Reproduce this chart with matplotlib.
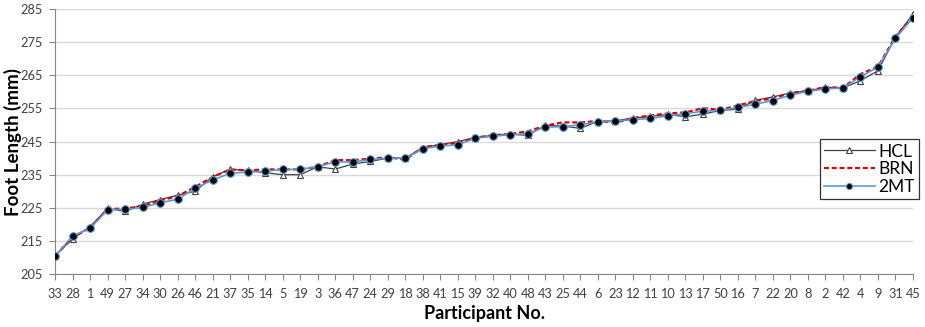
import numpy as np
import matplotlib
matplotlib.use("Agg")
import matplotlib.pyplot as plt

plt.rcParams['font.family'] = ['Lato', 'DejaVu Sans']

#==================================================================================================================
# data
participants = ["33", "28", "1", "49", "27", "34", "30", "26", "46", "21",
                "37", "35", "14", "5", "19", "3", "36", "47", "24", "29",
                "18", "38", "41", "15", "39", "32", "40", "48", "43", "25",
                "44", "6", "23", "12", "11", "10", "13", "17", "50", "16",
                "7", "22", "20", "8", "2", "42", "4", "9", "31", "45"]

hcl = [210.5, 215.7, 219.3, 224.8, 223.9, 226.1, 227.5, 228.8, 230.0, 234.4,
       236.6, 236.3, 235.6, 235.0, 235.0, 237.4, 236.7, 238.2, 239.0, 240.0,
       240.0, 243.2, 244.1, 245.0, 246.2, 246.9, 247.2, 246.9, 249.9, 249.7,
       249.0, 251.1, 251.3, 252.1, 252.6, 253.2, 252.5, 253.3, 254.4, 254.8,
       257.5, 258.5, 259.7, 260.3, 261.4, 261.2, 263.4, 266.4, 276.5, 283.5]

brn = [210.5, 216.0, 219.0, 224.6, 224.8, 225.5, 227.2, 228.5, 231.3, 234.3,
       236.6, 236.3, 236.6, 236.6, 236.6, 237.4, 239.4, 239.4, 239.8, 240.3,
       239.5, 243.3, 244.0, 244.6, 246.2, 246.9, 247.3, 248.1, 249.8, 250.8,
       250.8, 251.2, 250.7, 252.1, 252.9, 253.5, 253.8, 255.1, 254.6, 255.9,
       257.3, 258.0, 259.7, 260.3, 261.5, 261.2, 265.4, 267.6, 276.7, 282.8]

mt2 = [210.4, 216.5, 218.8, 224.4, 224.5, 225.1, 226.5, 227.6, 230.9, 233.4,
       235.4, 235.8, 236.0, 236.6, 236.6, 237.4, 238.9, 238.8, 239.6, 240.0,
       240.0, 242.8, 243.7, 244.0, 246.0, 246.6, 247.1, 247.4, 249.4, 249.5,
       250.1, 250.9, 251.2, 251.6, 252.0, 252.8, 253.4, 254.2, 254.4, 255.3,
       256.3, 257.4, 259.0, 260.2, 260.9, 261.2, 264.6, 267.5, 276.2, 282.4]

#==================================================================================================================

def make_plot(output_name):
    x = np.arange(len(participants))

    fig = plt.figure(figsize=(9.25, 3.27), dpi=100)
    ax = fig.add_axes([0.0595, 0.162, 0.9275, 0.81])

    ax.plot(x, hcl, color='#404040', lw=0.9, marker='^', ms=5,
            mfc='white', mec='#404040', mew=0.8, label='HCL', zorder=3)
    ax.plot(x, brn, color='#e00000', lw=1.6, ls=(0, (2.2, 1.3)),
            label='BRN', zorder=4)
    ax.plot(x, mt2, color='#5b9bd5', lw=1.2, marker='o', ms=5.5,
            mfc='black', mec='#5b9bd5', mew=0.8, label='2MT', zorder=5)

    ax.set_xlim(0, len(participants) - 1)
    ax.set_ylim(205, 285)
    ax.set_yticks(np.arange(205, 286, 10))
    ax.set_xticks(x)
    ax.set_xticklabels(participants)
    ax.grid(axis='y', color='#d9d9d9', lw=1)
    ax.set_axisbelow(True)

    ax.spines['top'].set_visible(False)
    ax.spines['right'].set_visible(False)
    ax.spines['left'].set_color('#868686')
    ax.spines['bottom'].set_color('#868686')
    ax.tick_params(axis='both', colors='#868686', length=4, width=0.8,
                   labelcolor='#404040', labelsize=9.2)
    ax.tick_params(axis='x', pad=6)
    ax.tick_params(axis='y', pad=5)

    ax.set_ylabel("Foot Length (mm)", fontsize=13.5, fontweight='bold')
    ax.yaxis.set_label_coords(-0.039, 0.5)
    ax.set_xlabel("Participant No.", fontsize=13, fontweight='bold', labelpad=4)

    leg = ax.legend(loc='upper left', bbox_to_anchor=(0.8916, 0.509),
                    fontsize=12.5, frameon=True, fancybox=False,
                    edgecolor='black', handlelength=2.9, handletextpad=0.2,
                    borderpad=0.25, labelspacing=0.1, borderaxespad=0,
                    markerscale=0.8)
    leg.get_frame().set_linewidth(0.9)

    fig.savefig(output_name, dpi=100)
    plt.close(fig)

#==================================================================================================================
if __name__ == "__main__":
    make_plot("out.png")
